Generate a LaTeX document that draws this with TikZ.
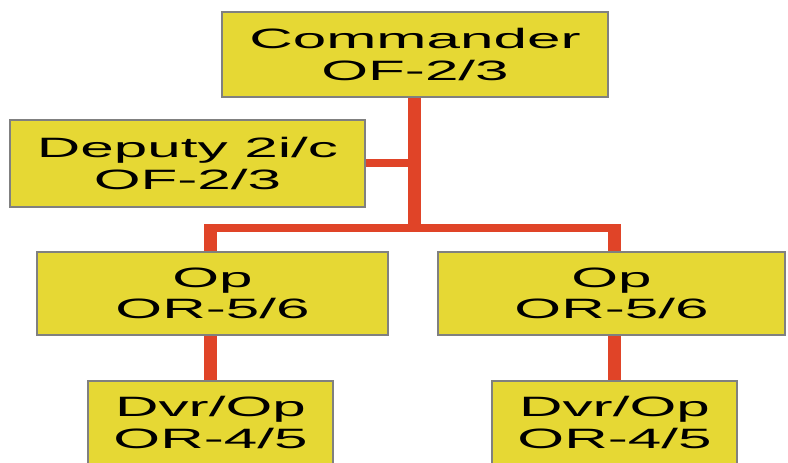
\documentclass[tikz,border=0pt]{standalone}
\usepackage{fontspec}
\newfontfamily\unitfont[FakeStretch=2.15]{Liberation Sans}
\newlength\px
\setlength\px{0.75pt}
\definecolor{unityellow}{RGB}{230,216,52}
\definecolor{unitedge}{RGB}{128,128,128}
\definecolor{linkred}{RGB}{224,68,40}
\tikzset{
	unit/.style={draw=unitedge,fill=unityellow,line width=2.4\px,inner sep=0pt,
		align=center,font=\unitfont\fontsize{21}{23.3}\selectfont},
	trunk/.style={draw=linkred,line width=13\px},
	branch/.style={draw=linkred,line width=8\px,line join=miter},
}
\begin{document}
\begin{tikzpicture}[x=0.75pt,y=-0.75pt]
		\useasboundingbox (0,0) rectangle (788,463);
		\draw (415,54.5) node (cmd)[unit,minimum width=386\px,minimum height=85\px]{Commander\\OF-2/3};
		\draw (187.5,163.5) node (dep)[unit,minimum width=355\px,minimum height=87\px]{Deputy 2i/c\\OF-2/3};
		\draw (212.5,293.5) node (opL)[unit,minimum width=351\px,minimum height=83\px]{Op\\OR-5/6};
		\draw (611.5,293.5) node (opR)[unit,minimum width=347\px,minimum height=83\px]{Op\\OR-5/6};
		\draw (210.5,422.5) node (dvrL)[unit,minimum width=245\px,minimum height=83\px]{Dvr/Op\\OR-4/5};
		\draw (614.5,422.5) node (dvrR)[unit,minimum width=245\px,minimum height=83\px]{Dvr/Op\\OR-4/5};
		\coordinate (fork) at (414,228);

		\draw[trunk] (cmd.south -| fork) -- (fork);
		\draw[branch] (dep.east) -- (dep.east -| fork);
		\draw[branch] (fork -| dvrL) -- (fork -| dvrR);
		\draw[trunk,shorten >=-3pt] (opL.north -| dvrL) -- (dvrL |- fork);
		\draw[trunk,shorten >=-3pt] (opR.north -| dvrR) -- (dvrR |- fork);
		\draw[trunk] (opL.south -| dvrL) -- (dvrL.north);
		\draw[trunk] (opR.south -| dvrR) -- (dvrR.north);
	\end{tikzpicture}
\end{document}
